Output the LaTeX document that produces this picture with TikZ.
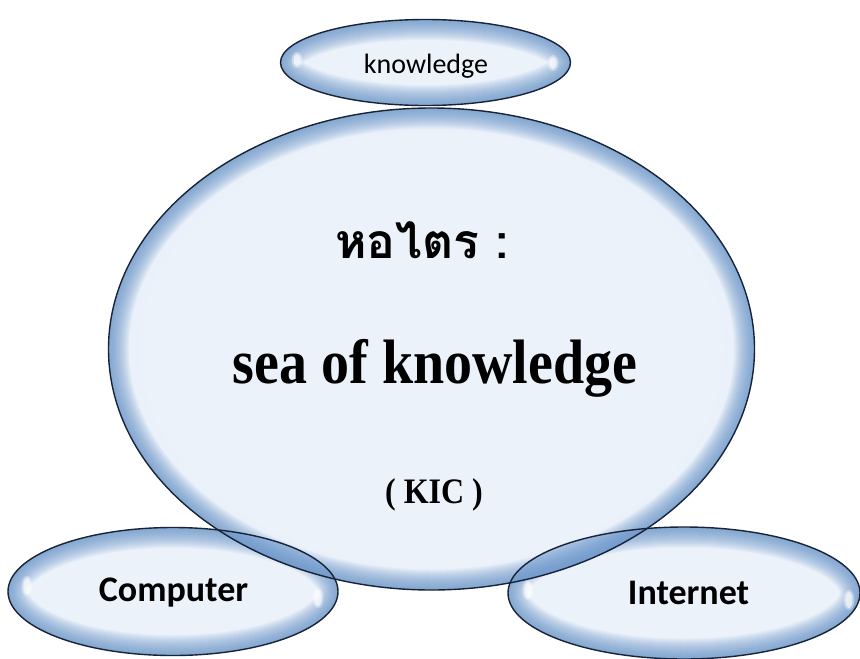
\documentclass[tikz,border=0pt]{standalone}
\usepackage{fontspec}
\setmainfont{Liberation Serif}
\newfontfamily\calfont{Carlito}
\newfontfamily\thaifont[Script=Thai]{Loma}
\usetikzlibrary{shapes.geometric}
\definecolor{bpale}{RGB}{236,242,250}
\definecolor{bmid}{RGB}{218,230,245}
\definecolor{bdeep}{RGB}{100,146,200}
\definecolor{bline}{RGB}{25,35,55}
\definecolor{lens}{RGB}{100,145,202}
\pgfdeclareradialshading{bubble}{\pgfpoint{0bp}{0bp}}{color(0bp)=(bpale); color(22bp)=(bpale); color(35.5bp)=(bmid); color(50bp)=(bmid)}
\newcommand{\glowband}[3]{%
  \begin{scope}
    \clip (#1) ellipse [x radius=#2, y radius=#3];
    \foreach \w in {3,5,...,41}{
      \draw[bdeep, line width=\w pt, opacity=0.06] (#1) ellipse [x radius=#2, y radius=#3];
    }
  \end{scope}}
\begin{document}
\begin{tikzpicture}[x=1pt,y=-1pt,
  bub/.style={ellipse, draw=none, shading=bubble, inner sep=0pt},
  outl/.style={draw=bline, line width=1.4pt},
  hl/.style={fill=white, draw=none}]
\useasboundingbox (0,0) rectangle (860,659);
% bubbles
\node[bub, minimum width=290pt, minimum height=86pt] (know) at (425.5,62.5) {};
\glowband{know.center}{145}{43}
\node[bub, minimum width=330pt, minimum height=128pt] (comp) at (173,591.5) {};
\glowband{comp.center}{165}{64}
\node[bub, minimum width=352pt, minimum height=132pt] (inet) at (684,593) {};
\glowband{inet.center}{176}{66}
\node[bub, minimum width=646pt, minimum height=482pt] (sea) at (431.5,349) {};
\glowband{sea.center}{323}{241}
% overlap lenses
\begin{scope}
  \clip (sea.center) ellipse [x radius=323, y radius=241];
  \fill[lens, fill opacity=0.5] (comp.center) ellipse [x radius=165, y radius=64];
  \fill[lens, fill opacity=0.5] (inet.center) ellipse [x radius=176, y radius=66];
\end{scope}
% highlights
\foreach \p/\r in {{(27,586)}/8, {(318,598)}/8, {(528,590)}/8, {(849,600)}/8, {(297,60)}/6, {(553,63)}/6}{
  \fill[hl, fill opacity=0.35] \p ellipse [x radius=5.5, y radius=\r+2];
  \fill[hl, fill opacity=0.6] \p ellipse [x radius=3.5, y radius=\r];
}
% outlines
\draw[outl] (know.center) ellipse [x radius=145, y radius=43];
\draw[outl] (comp.center) ellipse [x radius=165, y radius=64];
\draw[outl] (inet.center) ellipse [x radius=176, y radius=66];
\draw[outl] (sea.center) ellipse [x radius=323, y radius=241];
% texts
\node[anchor=base, font=\calfont\fontsize{28}{30}\selectfont] (tknow) at (426,73) {knowledge};
\node[anchor=base, font=\thaifont\bfseries\fontsize{48}{54}\selectfont] (tthai) at (422,258) {หอไตร :};
\node[anchor=base, font=\bfseries\fontsize{56}{60}\selectfont] (tsea) at (435,383) {\scalebox{1}[1.12]{sea of knowledge}};
\node[anchor=base, font=\bfseries\fontsize{32}{36}\selectfont] (tkic) at (434,503) {\scalebox{1}[1.12]{( KIC )}};
\node[anchor=base, font=\calfont\bfseries\fontsize{36}{40}\selectfont] (tcomp) at (173.5,601) {Computer};
\node[anchor=base, font=\calfont\bfseries\fontsize{36}{40}\selectfont] (tinet) at (688.5,604) {Internet};
\end{tikzpicture}
\end{document}
